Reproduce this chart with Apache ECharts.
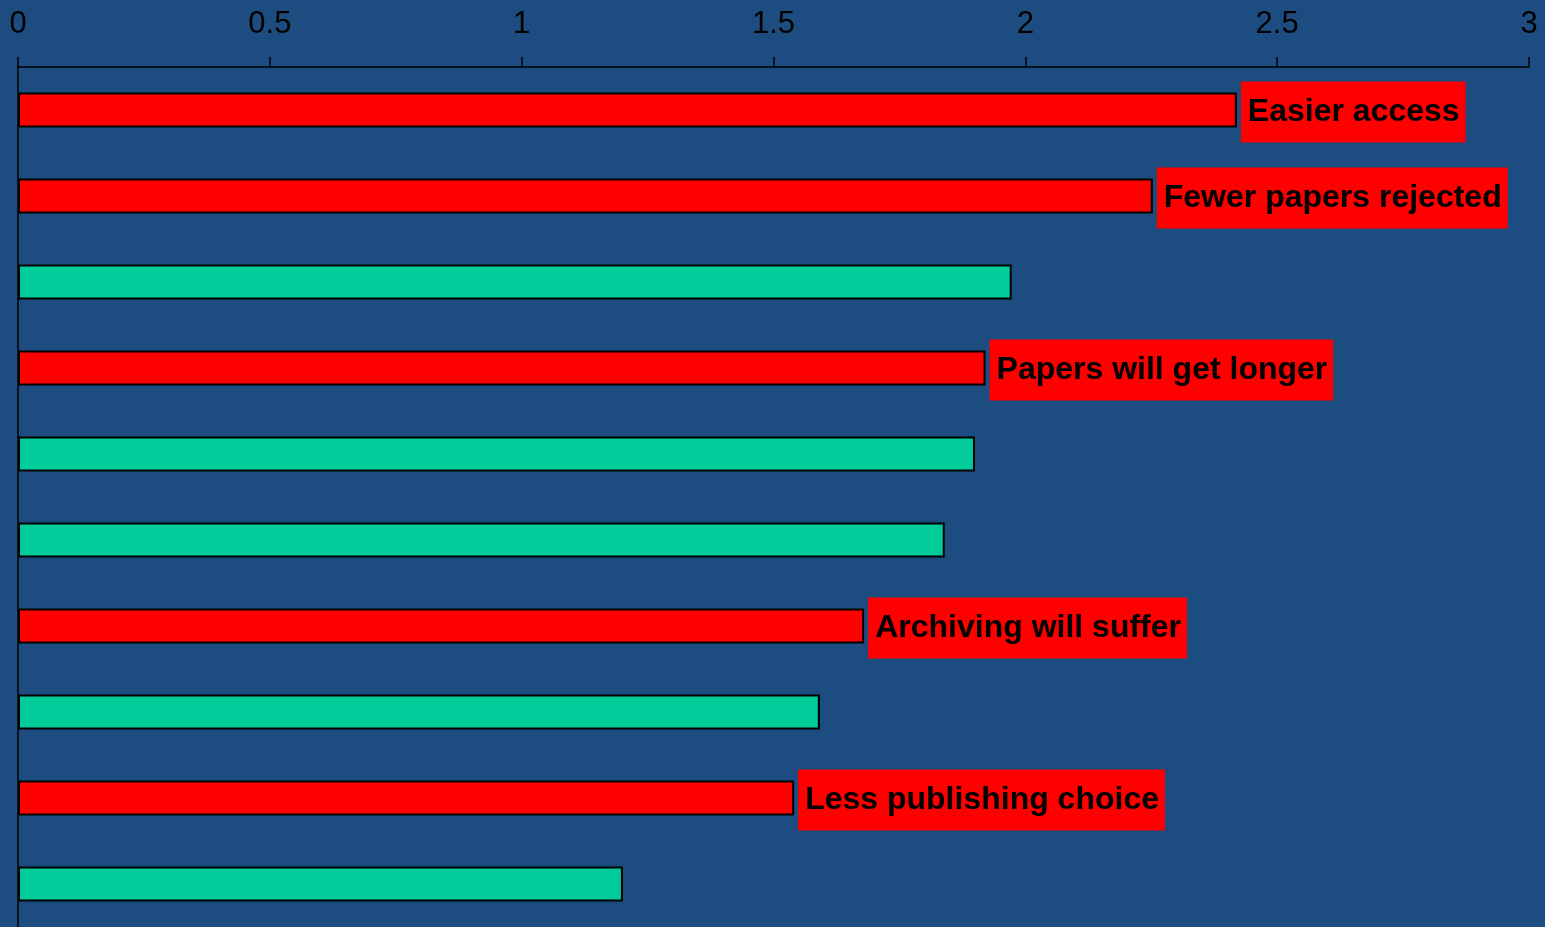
<!DOCTYPE html>
<html>
<head>
<meta charset="utf-8">
<script src="https://cdn.jsdelivr.net/npm/echarts@6/dist/echarts.min.js"></script>
<style>html,body{margin:0;padding:0;background:#1C4C80;}#c{width:1545px;height:927px;}</style>
</head>
<body>
<div id="c"></div>
<script>
const categories = ["Item 1","Item 2","Item 3","Item 4","Item 5","Item 6","Item 7","Item 8","Item 9","Item 10"];
const values = [2.42, 2.253, 1.973, 1.921, 1.900, 1.840, 1.680, 1.592, 1.541, 1.201];
const barLabels = ["Easier access","Fewer papers rejected","","Papers will get longer","","","Archiving will suffer","","Less publishing choice",""];
const xTicks = [0, 0.5, 1, 1.5, 2, 2.5, 3];

const chart = echarts.init(document.getElementById('c'));
chart.setOption({
  backgroundColor: '#1C4C80',
  animation: false,
  grid: {left: 18, right: 16, top: 67, height: 863},
  xAxis: {
    type: 'value', position: 'top', min: xTicks[0], max: xTicks[xTicks.length-1], interval: 0.5,
    axisLine: {show: true, lineStyle: {color: '#000', width: 1.5}},
    axisTick: {show: true, length: 10, lineStyle: {color: '#000', width: 1.5}},
    splitLine: {show: false},
    axisLabel: {color: '#000', fontSize: 31, fontFamily: 'Liberation Sans, Arial', margin: 27,
      formatter: v => String(v)}
  },
  yAxis: {
    type: 'category', inverse: true, data: categories,
    axisLine: {show: true, lineStyle: {color: '#000', width: 1.5}},
    axisTick: {show: false}, axisLabel: {show: false}, splitLine: {show: false}
  },
  series: [{
    type: 'bar', barWidth: 35,
    data: values.map((v, i) => ({
      value: v,
      itemStyle: {color: barLabels[i] ? '#FF0000' : '#00CC99', borderColor: '#000', borderWidth: 2},
      label: barLabels[i] ? {
        show: true, position: 'right', distance: 4, offset: [0, 2], formatter: barLabels[i],
        color: '#000', fontSize: 32, fontWeight: 'bold', fontFamily: 'Liberation Sans, Arial',
        backgroundColor: '#FF0000', padding: [12, 6, 17, 7]
      } : {show: false}
    }))
  }]
});
</script>
</body>
</html>
